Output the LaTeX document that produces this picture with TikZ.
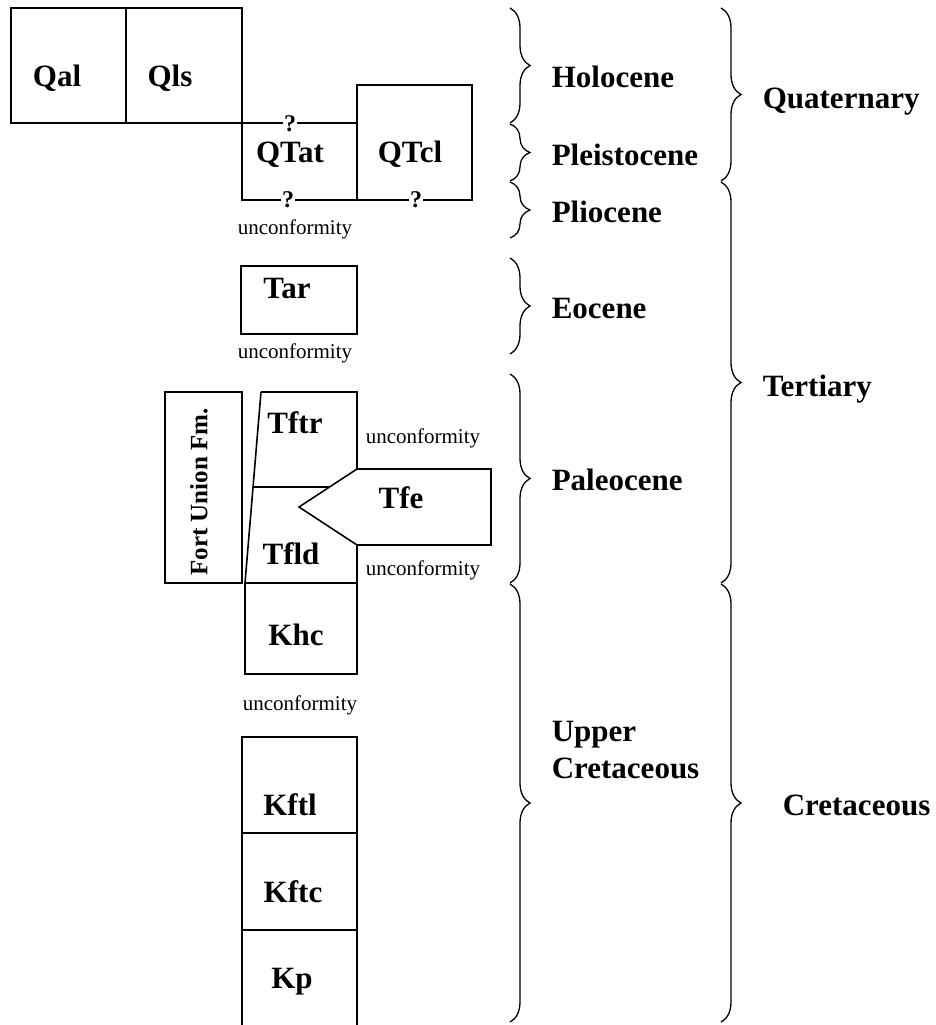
\documentclass[tikz,border=0pt]{standalone}
\usepackage{fontspec}
\setmainfont{Liberation Serif}
\usetikzlibrary{decorations.pathreplacing}

\begin{document}
\begin{tikzpicture}[x=1pt, y=-1pt, line width=1.6pt,
    unit/.style = {font=\fontsize{31}{37}\selectfont\bfseries, anchor=base, inner sep=0pt},
    age/.style = {font=\fontsize{31}{37}\selectfont\bfseries, anchor=base west, inner sep=0pt},
    note/.style = {font=\fontsize{21}{24}\selectfont, anchor=base, inner sep=0pt},
    query/.style = {font=\fontsize{24}{26}\selectfont\bfseries, fill=white, inner sep=1pt},
    formation/.style = {font=\fontsize{25}{28}\selectfont\bfseries, rotate=90, inner sep=0pt},
    agebrace/.style = {decorate, decoration={brace, amplitude=20pt}, line width=1.3pt}]
    \useasboundingbox (0,0) rectangle (935,1025);

    \draw (11,8) rectangle (126,123);
    \draw (126,8) rectangle (242,123);
    \draw (242,123) -- (357,123);
    \draw (242,123) -- (242,200) -- (357,200);
    \draw (357,85) rectangle (472,200);
    \draw (241,266) rectangle (357,334);
    \draw (165,392) rectangle (242,583);
    \draw (261,392) -- (357,392) -- (357,469);
    \draw (261,392) -- (245,583);
    \draw (253,487) -- (329.5,487);
    \draw (357,469) -- (491,469) -- (491,545) -- (357,545) -- (299,507) -- cycle;
    \draw (357,545) -- (357,583);
    \draw (245,583) rectangle (357,674);
    \draw (242,737) rectangle (357,833);
    \draw (242,833) rectangle (357,930);
    \draw (242,1026) -- (242,930) -- (357,930) -- (357,1026);

    \node[unit] (Qal) at (57,86) {Qal};
    \node[unit] (Qls) at (170,86) {Qls};
    \node[unit] (QTat) at (290,162) {QTat};
    \node[unit] (QTcl) at (410,162) {QTcl};
    \node[query] (Q1) at (290,123.5) {?};
    \node[query] (Q2) at (288,200) {?};
    \node[query] (Q3) at (416,200) {?};
    \node[note] (U1) at (295,234) {unconformity};
    \node[unit] (Tar) at (287,298) {Tar};
    \node[note] (U2) at (295,358) {unconformity};
    \node[formation] (FortUnion) at (199,492) {Fort Union Fm.};
    \node[unit] (Tftr) at (295,433) {Tftr};
    \node[unit] (Tfe) at (401,508) {Tfe};
    \node[unit] (Tfld) at (291,564) {Tfld};
    \node[unit] (Khc) at (296,645) {Khc};
    \node[note] (U3) at (423,443) {unconformity};
    \node[note] (U4) at (423,575) {unconformity};
    \node[note] (U5) at (300,710) {unconformity};
    \node[unit] (Kftl) at (290,815) {Kftl};
    \node[unit] (Kftc) at (293,902) {Kftc};
    \node[unit] (Kp) at (292,988) {Kp};

    \draw[agebrace] (510,8) -- (510,123);
    \draw[agebrace] (510,124) -- (510,181);
    \draw[agebrace] (510,182) -- (510,238);
    \draw[agebrace] (510,258) -- (510,354);
    \draw[agebrace] (510,374) -- (510,583);
    \draw[agebrace] (510,584) -- (510,1022);

    \draw[agebrace] (721,8) -- (721,181);
    \draw[agebrace] (721,182) -- (721,583);
    \draw[agebrace] (721,584) -- (721,1022);

    \node[age] (Holocene) at (551,88) {Holocene};
    \node[age] (Pleistocene) at (551,165) {Pleistocene};
    \node[age] (Pliocene) at (551,222) {Pliocene};
    \node[age] (Eocene) at (551,318) {Eocene};
    \node[age] (Paleocene) at (551,490) {Paleocene};
    \node[age, align=left] (UpperK) at (551,778) {Upper\\Cretaceous};

    \node[age] (Quaternary) at (762,108) {Quaternary};
    \node[age] (Tertiary) at (762,396) {Tertiary};
    \node[age] (Cretaceous) at (782,815) {Cretaceous};
\end{tikzpicture}
\end{document}
